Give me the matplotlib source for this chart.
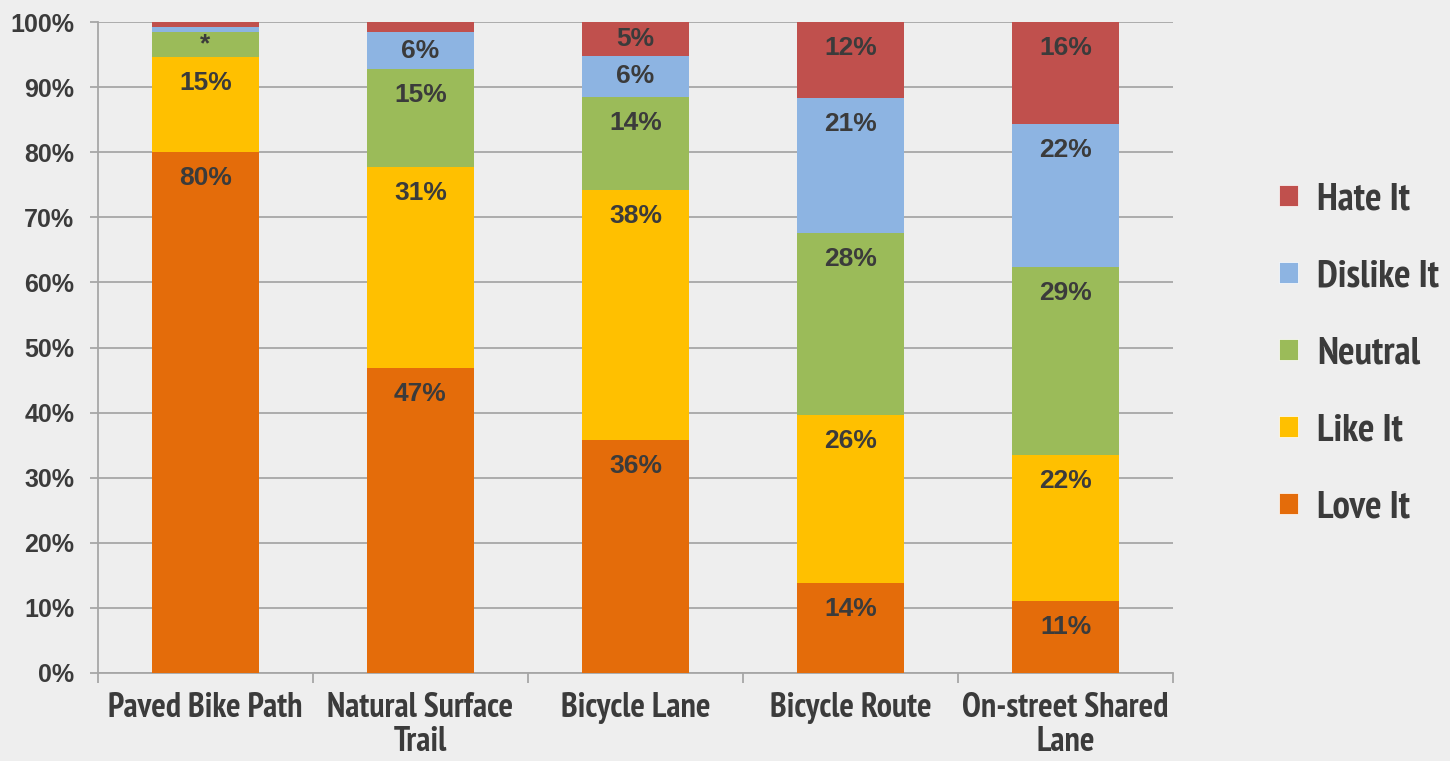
import matplotlib
matplotlib.use("Agg")
import matplotlib.pyplot as plt
from matplotlib import font_manager
from matplotlib.font_manager import FontProperties
from matplotlib.patches import Patch
import numpy as np

# data (percent of respondents)
categories = ["Paved Bike Path", "Natural Surface\nTrail", "Bicycle Lane",
              "Bicycle Route", "On-street Shared\nLane"]
series = ["Love It", "Like It", "Neutral", "Dislike It", "Hate It"]
love_it = [80.0, 46.9, 35.8, 13.8, 11.1]
like_it = [14.7, 30.8, 38.4, 25.8, 22.4]
neutral = [3.7, 15.1, 14.3, 28.0, 28.9]
dislike_it = [0.8, 5.6, 6.3, 20.8, 21.9]
hate_it = [0.8, 1.6, 5.2, 11.6, 15.7]

colors = ["#E46C0A", "#FFC000", "#9BBB59", "#8DB4E2", "#C0504D"]
text_color = "#3B3B3B"
bg = "#EEEEEE"
grid_color = "#A6A6A6"

names = {f.name for f in font_manager.fontManager.ttflist}
base_font = "Liberation Sans" if "Liberation Sans" in names else "DejaVu Sans"


def find_narrow():
    # look for a narrow / condensed bold sans face
    good = []
    for f in font_manager.fontManager.ttflist:
        n = f.name + " " + str(f.fname)
        w = f.weight if isinstance(f.weight, int) else 700 if "bold" in str(f.weight).lower() else 400
        if w < 600 or "Italic" in f.fname or "Oblique" in f.fname:
            continue
        if "Narrow" in n:
            good.append((0, f.fname))
        elif "SemiCondensed" in f.fname or "semi-condensed" in str(f.stretch):
            good.append((2, f.fname))
        elif "ExtraCondensed" in f.fname or "extra" in str(f.stretch):
            continue
        elif "Condensed" in f.fname or f.stretch == "condensed":
            good.append((1, f.fname))
    good = [g for g in good if "Bold" in g[1] and "Extra" not in g[1] and "Semi" not in g[1].split("Condensed")[-1]]
    if good:
        good.sort()
        return FontProperties(fname=good[0][1]), 1.0
    return FontProperties(family=base_font, weight="bold"), 0.84


narrow_prop, scale = find_narrow()

fig = plt.figure(figsize=(14.5, 7.61), dpi=100, facecolor=bg)
ax = fig.add_axes([98 / 1450, 88 / 761, (1173 - 98) / 1450, (673 - 22) / 761])
ax.set_facecolor(bg)

data = [love_it, like_it, neutral, dislike_it, hate_it]
x = np.arange(len(categories))
bottom = np.zeros(len(categories))
for vals, col, name in zip(data, colors, series):
    vals = np.array(vals)
    ax.bar(x, vals, 0.5, bottom=bottom, color=col, label=name, zorder=3)
    for xi, b, v in zip(x, bottom, vals):
        if v < 2:
            continue
        lab = "*" if v < 4.5 else f"{v:.0f}%"
        top = b + v
        y = max(top - 4.0, top - v / 2)
        ax.text(xi, y, lab, ha="center", va="center", fontsize=19,
                fontweight="bold", color=text_color, family=base_font, zorder=4)
    bottom += vals

ax.set_xlim(-0.5, len(categories) - 0.5)
ax.set_ylim(0, 100)
ax.set_yticks(np.arange(0, 101, 10))
ax.set_yticklabels([f"{t}%" for t in range(0, 101, 10)])
ax.yaxis.grid(True, color=grid_color, linewidth=1.3, zorder=0)
ax.tick_params(axis="y", length=6, width=1.3, color=grid_color, pad=11,
               labelsize=18, labelcolor=text_color)
for lbl in ax.get_yticklabels():
    lbl.set_fontweight("bold")
    lbl.set_family(base_font)

ax.set_xticks(x)
ax.set_xticklabels(categories)
ax.set_xticks(np.arange(-0.5, len(categories)), minor=True)
ax.tick_params(axis="x", which="major", length=0, pad=14, labelcolor=text_color)
ax.tick_params(axis="x", which="minor", length=7, width=1.3, color=grid_color)
for lbl in ax.get_xticklabels():
    lbl.set_fontproperties(narrow_prop)
    lbl.set_fontsize(24.5 * scale)
    lbl.set_linespacing(1.05)

for s in ["top", "right"]:
    ax.spines[s].set_visible(False)
for s in ["left", "bottom"]:
    ax.spines[s].set_color(grid_color)
    ax.spines[s].set_linewidth(1.3)

leg_prop = narrow_prop.copy()
leg_prop.set_size(28 * scale)
handles = [Patch(facecolor=c, edgecolor="white", linewidth=0.5) for c in colors][::-1]
leg = fig.legend(handles, series[::-1], loc="center left",
                 bbox_to_anchor=(1279 / 1450, 0.535), frameon=False,
                 borderpad=0, borderaxespad=0, handlelength=0.48 / scale,
                 handleheight=0.48 / scale, handletextpad=0.5 / scale,
                 labelspacing=1.08 / scale, prop=leg_prop)
for t in leg.get_texts():
    t.set_color(text_color)

fig.savefig("out.png", dpi=100, facecolor=bg)
